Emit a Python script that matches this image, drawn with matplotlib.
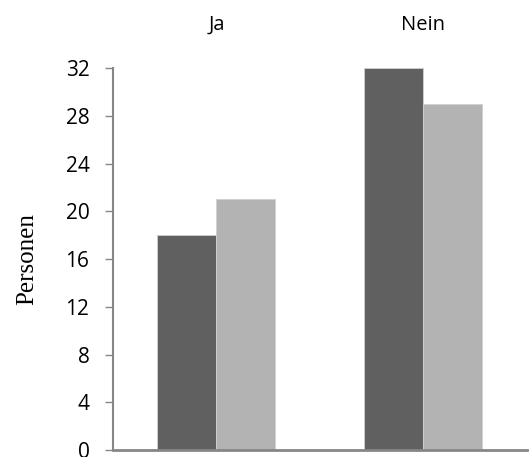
import numpy as np
import matplotlib.pyplot as plt

categories = ["Ja", "Nein"]
series_a = [18, 32]
series_b = [21, 29]
yticks = [0, 4, 8, 12, 16, 20, 24, 28, 32]

fig = plt.figure(figsize=(5.29, 4.57), dpi=100)
ax = fig.add_axes([0.2136, 0.0153, 0.7824, 0.8357])

x = np.arange(len(categories))
w = 0.285
ax.bar(x - w / 2, series_a, width=w, color="#606060", edgecolor="#d0d0d0", linewidth=0.6)
ax.bar(x + w / 2, series_b, width=w, color="#b3b3b3", edgecolor="#d0d0d0", linewidth=0.6)

ax.set_xlim(-0.5, 1.5)
ax.set_ylim(0, 32)
ax.set_yticks(yticks)
ax.set_yticklabels([str(v) for v in yticks], fontsize=15, family="Open Sans")
ax.tick_params(axis="y", direction="out", length=6, width=1, color="#868686", pad=11)

ax.xaxis.set_ticks_position("top")
ax.set_xticks(x)
ax.set_xticklabels(categories, fontsize=14.5, family="Open Sans")
ax.tick_params(axis="x", length=0, pad=24)

for s in ["top", "right"]:
    ax.spines[s].set_visible(False)
ax.spines["left"].set_color("#868686")
ax.spines["left"].set_linewidth(1.5)
ax.spines["bottom"].set_color("#868686")
ax.spines["bottom"].set_linewidth(2)

ax.set_ylabel("Personen", fontsize=18, family="Liberation Serif")
ax.yaxis.set_label_coords(-0.18, 0.5)

fig.savefig("out.png", dpi=100)
